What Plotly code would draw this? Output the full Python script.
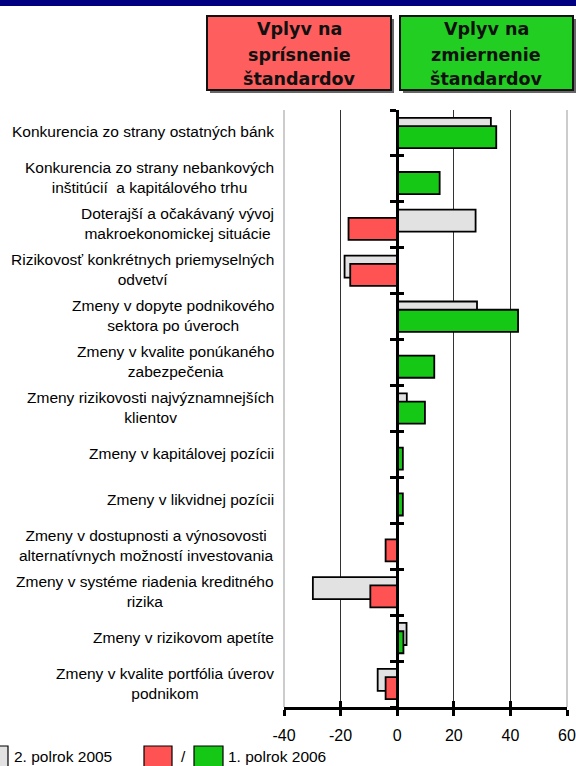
import plotly.graph_objects as go

# ---------------- data ----------------
categories = [
    "Konkurencia zo strany ostatných bánk",
    "Konkurencia zo strany nebankových<br>inštitúcií  a kapitálového trhu",
    "Doterajší a očakávaný vývoj<br>makroekonomickej situácie",
    "Rizikovosť konkrétnych priemyselných<br>odvetví",
    "Zmeny v dopyte podnikového<br>sektora po úveroch",
    "Zmeny v kvalite ponúkaného<br>zabezpečenia",
    "Zmeny rizikovosti najvýznamnejších<br>klientov",
    "Zmeny v kapitálovej pozícii",
    "Zmeny v likvidnej pozícii",
    "Zmeny v dostupnosti a výnosovosti<br>alternatívnych možností investovania",
    "Zmeny v systéme riadenia kreditného<br>rizika",
    "Zmeny v rizikovom apetíte",
    "Zmeny v kvalite portfólia úverov<br>podnikom",
]
h2_2005 = [33.1, None, 27.7, -18.6, 28.2, None, 3.4, None, None, None, -29.8, 3.3, -6.9]
h1_2006 = [35.0, 15.0, -17.2, -16.6, 42.7, 13.1, 9.8, 2.0, 2.0, -4.1, -9.5, 2.2, -4.1]
x_ticks = [-40, -20, 0, 20, 40, 60]
series_names = ["2. polrok 2005", "1. polrok 2006"]
header_left = ["Vplyv na", "sprísnenie", "štandardov"]
header_right = ["Vplyv na", "zmiernenie", "štandardov"]

# ---------------- layout geometry ----------------
W_FIG, H_FIG = 576, 766
L, T, R, B = 284, 110, 9, 59
PW = W_FIG - L - R
PH = H_FIG - T - B


def px2x(px):
    return (px - L) / PW


def py2y(py):
    return (T + PH - py) / PH


GREY = "#E2E2E2"
RED = "#FF5252"
GREEN = "#16C816"
FONT = "Liberation Sans, Arial, sans-serif"

pos = list(range(len(categories)))
n = len(categories)

fig = go.Figure()
fig.add_trace(go.Bar(
    y=pos, x=h2_2005, orientation="h", width=0.48, offset=-0.33,
    marker=dict(color=GREY, line=dict(color="black", width=1.8)),
    name=series_names[0], showlegend=False, hoverinfo="x",
))
colors_2006 = [RED if v < 0 else GREEN for v in h1_2006]
fig.add_trace(go.Bar(
    y=pos, x=h1_2006, orientation="h", width=0.48, offset=-0.15,
    marker=dict(color=colors_2006, line=dict(color="black", width=1.8)),
    name=series_names[1], showlegend=False, hoverinfo="x",
))
# helper trace for overlay axes (inside ticks)
fig.add_trace(go.Scatter(x=[None], y=[None], xaxis="x2", yaxis="y2",
                         showlegend=False, hoverinfo="skip"))

boundaries = [i - 0.5 for i in range(n + 1)]

fig.update_layout(
    width=W_FIG, height=H_FIG, autosize=False,
    margin=dict(l=L, r=R, t=T, b=B, pad=0, autoexpand=False),
    paper_bgcolor="white", plot_bgcolor="white",
    barmode="overlay",
    showlegend=False,
    font=dict(family=FONT, color="black"),
    xaxis=dict(
        range=[-40, 60], tickvals=x_ticks, ticktext=[str(v) for v in x_ticks],
        showgrid=True, gridcolor="#333333", gridwidth=1,
        zeroline=True, zerolinecolor="black", zerolinewidth=3,
        showline=True, linecolor="black", linewidth=3,
        ticks="outside", ticklen=6, tickwidth=3, tickcolor="black",
        tickfont=dict(size=16, family=FONT, color="black"),
        ticklabelstandoff=6, fixedrange=True, automargin=False,
    ),
    xaxis2=dict(
        range=[-40, 60], tickvals=x_ticks, overlaying="x", anchor="y",
        showgrid=False, zeroline=False, showline=False,
        ticks="inside", ticklen=6, tickwidth=3, tickcolor="black",
        showticklabels=False, fixedrange=True, automargin=False,
    ),
    yaxis=dict(
        range=[n - 0.5, -0.5], tickvals=boundaries, showticklabels=False,
        showgrid=False, zeroline=False,
        anchor="free", position=0.4,
        showline=True, linecolor="black", linewidth=3,
        ticks="outside", ticklen=6, tickwidth=3, tickcolor="black",
        fixedrange=True, automargin=False,
    ),
    yaxis2=dict(
        range=[n - 0.5, -0.5], tickvals=boundaries, showticklabels=False,
        overlaying="y", anchor="free", position=0.4,
        showgrid=False, zeroline=False, showline=False,
        ticks="inside", ticklen=6, tickwidth=3, tickcolor="black",
        fixedrange=True, automargin=False,
    ),
)

shapes = []
# light grey plot edges
for xp in (0, 1):
    shapes.append(dict(type="line", xref="paper", yref="paper", x0=xp, x1=xp,
                       y0=0, y1=1, line=dict(color="#CCCCCC", width=2), layer="below"))
# navy band at top
shapes.append(dict(type="rect", xref="paper", yref="paper",
                   x0=px2x(-10), x1=px2x(590), y0=py2y(-10), y1=py2y(6),
                   fillcolor="#000080", line=dict(width=0)))
# header boxes with shadows
for (x0, x1, col) in [(207, 391, "#FF5E5E"), (400, 573, "#22CE22")]:
    shapes.append(dict(type="rect", xref="paper", yref="paper",
                       x0=px2x(x0 + 3), x1=px2x(x1 + 3), y0=py2y(16 + 3), y1=py2y(90 + 3),
                       fillcolor="#666666", line=dict(width=0)))
    shapes.append(dict(type="rect", xref="paper", yref="paper",
                       x0=px2x(x0), x1=px2x(x1), y0=py2y(16), y1=py2y(90),
                       fillcolor=col, line=dict(color="#111111", width=2)))
# legend boxes
for (x0, x1, col) in [(-20, 8, GREY), (144, 172, RED), (194, 223, GREEN)]:
    shapes.append(dict(type="rect", xref="paper", yref="paper",
                       x0=px2x(x0), x1=px2x(x1), y0=py2y(746), y1=py2y(772),
                       fillcolor=col, line=dict(color="black", width=1.2)))
fig.update_layout(shapes=shapes)

ann = []
# category labels
for i, c in enumerate(categories):
    ann.append(dict(text=c, xref="paper", yref="y", x=0, y=i, xanchor="right",
                    yanchor="middle", xshift=-8, yshift=1, align="center", showarrow=False,
                    font=dict(size=15.5, family=FONT, color="black")))
# header texts
line_y = [29, 55, 79]
for cx, lines in [(299, header_left), (486, header_right)]:
    for ly, t in zip(line_y, lines):
        ann.append(dict(text="<b>%s</b>" % t, xref="paper", yref="paper",
                        x=px2x(cx), y=py2y(ly), xanchor="center", yanchor="middle",
                        showarrow=False,
                        font=dict(size=17.5, family="DejaVu Sans, sans-serif", color="#111111")))
# legend texts
ly = py2y(756)
ann.append(dict(text=series_names[0], xref="paper", yref="paper", x=px2x(12), y=ly,
                xanchor="left", yanchor="middle", showarrow=False,
                font=dict(size=15.5, family=FONT, color="black")))
ann.append(dict(text="/", xref="paper", yref="paper", x=px2x(183), y=ly,
                xanchor="center", yanchor="middle", showarrow=False,
                font=dict(size=15.5, family=FONT, color="black")))
ann.append(dict(text=series_names[1], xref="paper", yref="paper", x=px2x(226), y=ly,
                xanchor="left", yanchor="middle", showarrow=False,
                font=dict(size=15.5, family=FONT, color="black")))
fig.update_layout(annotations=ann)

fig.write_html(
    "out.html",
    config={"displayModeBar": False, "responsive": False},
    post_script="document.body.style.margin='0';document.body.style.overflow='hidden';",
)
